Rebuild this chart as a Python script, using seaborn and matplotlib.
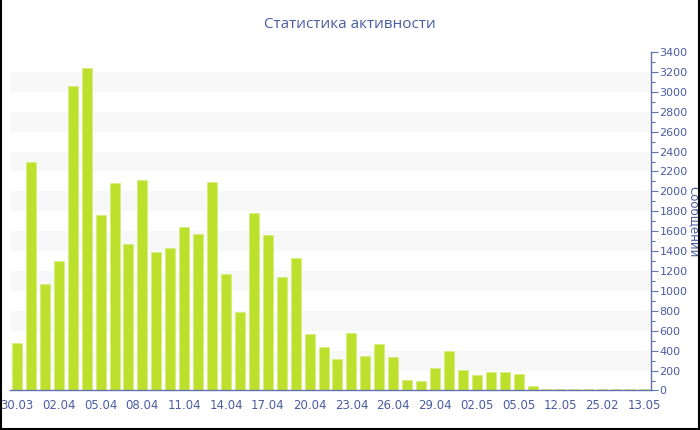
import pandas as pd
import seaborn as sns
import matplotlib.pyplot as plt
from matplotlib.ticker import MultipleLocator
from matplotlib.lines import Line2D

# даты (подписаны только каждые 3)
dates = ['30.03', '31.03', '01.04', '02.04', '03.04', '04.04', '05.04', '06.04',
         '07.04', '08.04', '09.04', '10.04', '11.04', '12.04', '13.04', '14.04',
         '15.04', '16.04', '17.04', '18.04', '19.04', '20.04', '21.04', '22.04',
         '23.04', '24.04', '25.04', '26.04', '27.04', '28.04', '29.04', '30.04',
         '01.05', '02.05', '03.05', '04.05', '05.05', '06.05', '07.05', '12.05',
         '18.05', '19.05', '25.02', '01.06', '02.06', '13.05']
messages = [480, 2300, 1070, 1305, 3055, 3240, 1760, 2085, 1470, 2110,
            1395, 1435, 1645, 1570, 2090, 1165, 785, 1778, 1560, 1135,
            1327, 570, 440, 320, 577, 350, 462, 332, 108, 95,
            222, 395, 202, 155, 188, 188, 165, 48, 12, 12,
            12, 18, 18, 12, 12, 15]

df = pd.DataFrame({'Дата': dates, 'Сообщений': messages})

txt = '#4a5ca3'
axis_col = '#6272b0'

sns.set_style('white')
plt.rcParams['font.family'] = ['DejaVu Sans']

fig = plt.figure(figsize=(7, 4.3), dpi=100)
ax = fig.add_axes([0.0143, 0.0919, 0.9157, 0.7872])

# светлые полосы фона
for lo in range(200, 3400, 400):
    ax.axhspan(lo, lo + 200, color='#f8f8f8', zorder=0, lw=0)

sns.barplot(data=df, x='Дата', y='Сообщений', color='#bde02c',
            saturation=1, width=0.72, ax=ax, zorder=2,
            edgecolor='#d6ee80', linewidth=0.6)

ax.set_xlim(-0.5, len(dates) - 0.5)
ax.set_ylim(0, 3400)
ax.set_xticks(range(0, len(dates), 3))
ax.set_xticklabels(dates[::3], fontsize=8.5, color=txt)

ax.yaxis.tick_right()
ax.yaxis.set_label_position('right')
ax.yaxis.set_major_locator(MultipleLocator(200))
ax.yaxis.set_minor_locator(MultipleLocator(100))
ax.tick_params(axis='y', which='major', length=5, width=0.8, color=axis_col,
               labelsize=8, labelcolor=txt, pad=1)
ax.tick_params(axis='y', which='minor', length=3, width=0.8, color=axis_col)
ax.tick_params(axis='x', length=4, width=0.8, color=axis_col, pad=2)

for s in ['top', 'left']:
    ax.spines[s].set_visible(False)
for s in ['bottom', 'right']:
    ax.spines[s].set_color(axis_col)
    ax.spines[s].set_linewidth(1)

ax.set_xlabel('')
ax.set_ylabel('Сообщений', rotation=270, color=txt, fontsize=8.5,
              ha='center', va='center')
ax.yaxis.set_label_coords(1.066, 0.5)

fig.text(0.5, 0.942, 'Статистика активности', ha='center', va='center',
         fontsize=11, color=txt, family=['Open Sans', 'DejaVu Sans'])

# рамка картинки (слева, справа, снизу)
for xs, ys in [([0.001, 0.001], [0, 1]), ([0.998, 0.998], [0, 1]), ([0, 1], [0.003, 0.003])]:
    fig.add_artist(Line2D(xs, ys, color='black', lw=1.5, transform=fig.transFigure))

plt.savefig('out.png', dpi=100)
